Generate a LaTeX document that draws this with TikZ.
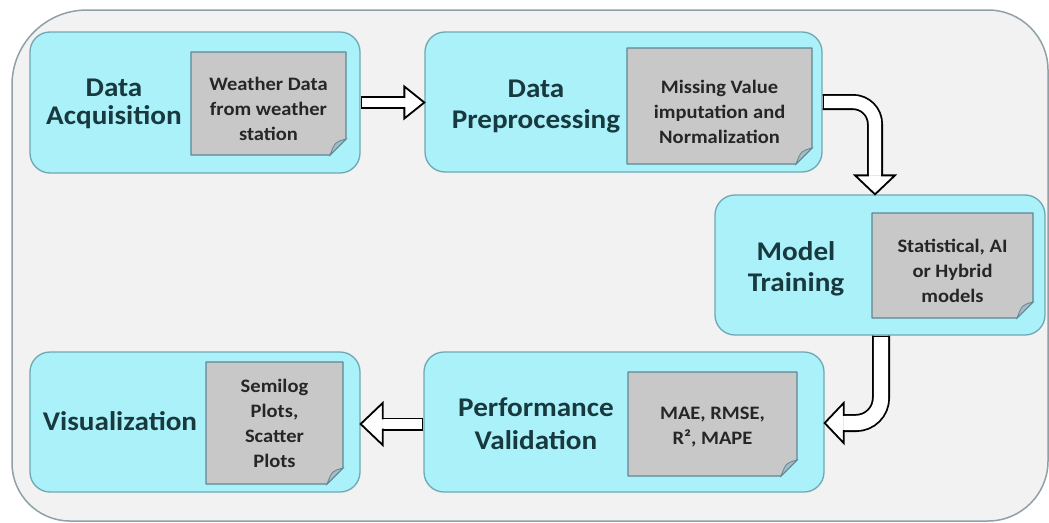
\documentclass[tikz,border=0pt]{standalone}
\usepackage{fontspec}
\setmainfont{Carlito}[FakeStretch=1.08]
\usetikzlibrary{calc}
\definecolor{framefill}{HTML}{F2F2F2}
\definecolor{frameline}{HTML}{8FA0A6}
\definecolor{boxfill}{HTML}{ABF1FA}
\definecolor{boxline}{HTML}{6FA8B4}
\definecolor{notefill}{HTML}{C8C8C8}
\definecolor{noteline}{HTML}{5F8796}
\definecolor{foldfill}{HTML}{A8BAC4}
\definecolor{labelcol}{HTML}{18393E}
\definecolor{notecol}{HTML}{262626}
\tikzset{
  stage/.style={draw=boxline, fill=boxfill, rounded corners=20pt, line width=1.3pt, inner sep=0pt},
  lbl/.style={font=\fontsize{27}{31}\selectfont\bfseries, align=center, text=labelcol, inner sep=0pt},
  notetext/.style={font=\fontsize{19}{25}\selectfont\bfseries, align=center, text=notecol, inner sep=0pt},
  notepoly/.style={fill=notefill, draw=noteline, line width=1.2pt, line join=round},
  foldpoly/.style={fill=foldfill, draw=noteline, line width=0.8pt},
  shaft/.style={draw=black, line width=1.8pt, double=white, double distance=#1},
  headpoly/.style={fill=white, draw=black, line width=1.8pt, line join=miter},
  bar/.style={draw=black, line width=1.8pt}
}
\newcommand\notebox[7]{%
  \path (#2,#3) ++(-#4/2,#5/2) coordinate (#1nw) ++(#4,0) coordinate (#1ne)
        ++(0,-#5) coordinate (#1se) ++(-#4,0) coordinate (#1sw);
  \filldraw[notepoly] (#1nw) -- (#1ne) -- ($(#1se)+(0,16)$) -- ($(#1se)+(-16,0)$) -- (#1sw) -- cycle;
  \filldraw[foldpoly] ($(#1se)+(0,16)$) -- ($(#1se)+(-16,0)$) .. controls ($(#1se)+(-11,13)$) .. cycle;
  \node[notetext] (#1) at ($(#2,#3)+(0,#7)$) {#6};
}
\begin{document}
\begin{tikzpicture}[x=1pt,y=1pt]
\useasboundingbox (0,0) rectangle (1049,-522);
% outer frame
\filldraw[fill=framefill, draw=frameline, line width=1.5pt]
  (87,-10) -- (988,-10) arc[start angle=90, end angle=0, radius=60]
  -- (1048,-461) arc[start angle=0, end angle=-90, radius=60]
  -- (70,-521) arc[start angle=-90, end angle=-180, radius=58]
  -- (12,-85) arc[start angle=180, end angle=90, radius=75] -- cycle;

% stages
\node[stage, minimum width=330pt, minimum height=141pt] (acq) at (195,-102.5) {};
\node[stage, minimum width=397pt, minimum height=140pt] (dp) at (623.5,-102) {};
\node[stage, minimum width=330pt, minimum height=140pt] (mt) at (880,-265) {};
\node[stage, minimum width=400pt, minimum height=140pt] (pv) at (624,-422) {};
\node[stage, minimum width=330pt, minimum height=140pt] (vis) at (195,-422) {};

% labels
\node[lbl, font=\fontsize{27}{28}\selectfont\bfseries] (acqL) at (114,-104) {Data\\Acquisition};
\node[lbl] (dpL) at (536,-107) {Data\\Preprocessing};
\node[lbl] (mtL) at (796,-269) {Model\\Training};
\node[lbl, font=\fontsize{27}{33}\selectfont\bfseries] (pvL) at (536,-424) {Performance\\Validation};
\node[lbl] (visL) at (120,-421) {Visualization};

% notes
\notebox{nA}{268.5}{-103.5}{155}{103}{Weather Data\\from weather\\station}{-5}
\notebox{nB}{719.5}{-106}{185}{116}{Missing Value\\imputation and\\Normalization}{-6}
\notebox{nC}{952.5}{-265.5}{161}{105}{Statistical, AI\\or Hybrid\\models}{-5}
\notebox{nD}{712.5}{-424}{169}{104}{MAE, RMSE,\\R², MAPE}{-3}
\notebox{nE}{274.5}{-423}{137}{122}{Semilog\\Plots,\\Scatter\\Plots}{0}

% arrow 1: acquisition -> preprocessing
\coordinate (t1) at (dp.west |- acq.east);
\draw[shaft=9.4pt] (acq.east) -- ($(t1)+(-20,0)$);
\draw[bar] ($(acq.east)+(0.9,6.5)$) -- ($(acq.east)+(0.9,-6.5)$);
\filldraw[headpoly] ($(t1)+(-20,4.7)$) -- ($(t1)+(-20,16)$) -- (t1) -- ($(t1)+(-20,-16)$) -- ($(t1)+(-20,-4.7)$);

% arrow 2: preprocessing -> model training
\coordinate (t2) at ($(mt.north)+(-5,0)$);
\draw[shaft=12.4pt, rounded corners=22pt] (dp.east) -| ($(t2)+(0,19)$);
\draw[bar] ($(dp.east)+(0.9,8)$) -- ($(dp.east)+(0.9,-8)$);
\filldraw[headpoly] ($(t2)+(-6.2,19)$) -- ($(t2)+(-20,19)$) -- (t2) -- ($(t2)+(20,19)$) -- ($(t2)+(6.2,19)$);

% arrow 3: model training -> performance validation
\coordinate (s3) at ($(mt.south)+(1,0)$);
\coordinate (t3) at ($(pv.east)+(0,-1)$);
\draw[shaft=14.4pt, rounded corners=25pt] (s3) |- ($(t3)+(19,0)$);
\draw[bar] ($(s3)+(-9,-0.9)$) -- ($(s3)+(9,-0.9)$);
\filldraw[headpoly] ($(t3)+(19,7.2)$) -- ($(t3)+(19,20)$) -- (t3) -- ($(t3)+(19,-20)$) -- ($(t3)+(19,-7.2)$);

% arrow 4: performance validation -> visualization
\coordinate (t4) at ($(vis.east)+(0,-2)$);
\draw[shaft=9.4pt] ($(pv.west)+(0,-2)$) -- ($(t4)+(22,0)$);
\draw[bar] ($(pv.west)+(-0.9,4.5)$) -- ($(pv.west)+(-0.9,-8.5)$);
\filldraw[headpoly] ($(t4)+(22,4.7)$) -- ($(t4)+(22,21)$) -- (t4) -- ($(t4)+(22,-21)$) -- ($(t4)+(22,-4.7)$);
\end{tikzpicture}
\end{document}
